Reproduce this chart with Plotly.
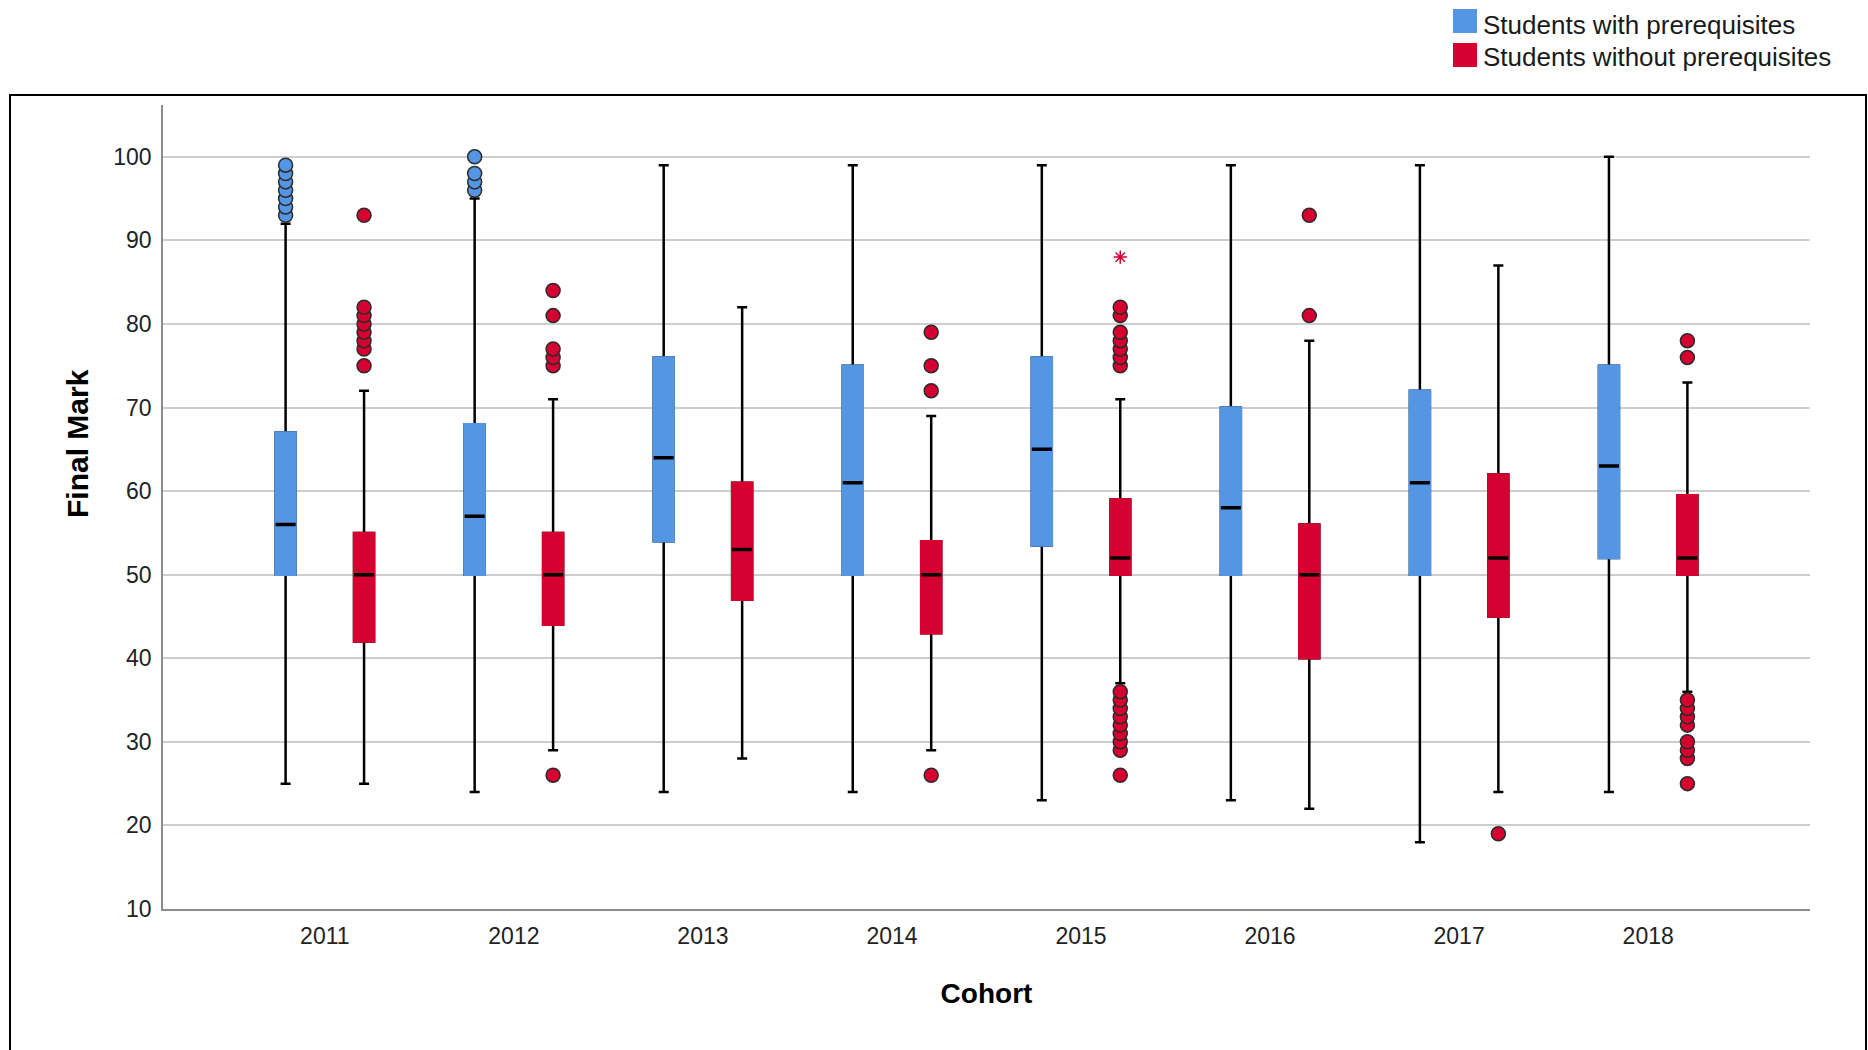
import plotly.graph_objects as go

# ---- data: final marks by cohort -------------------------------------------
cohorts = ["2011", "2012", "2013", "2014", "2015", "2016", "2017", "2018"]

# Students with prerequisites
with_low = [25, 24, 24, 24, 23, 23, 18, 24]
with_q1 = [50, 50, 54, 50, 53.5, 50, 50, 52]
with_median = [56, 57, 64, 61, 65, 58, 61, 63]
with_q3 = [67, 68, 76, 75, 76, 70, 72, 75]
with_high = [92, 95, 99, 99, 99, 99, 99, 100]
with_outliers = {
    "2011": [93, 94, 95, 96, 97, 98, 99],
    "2012": [96, 97, 98, 100],
}
with_extremes = {}

# Students without prerequisites
without_low = [25, 29, 28, 29, 37, 22, 24, 36]
without_q1 = [42, 44, 47, 43, 50, 40, 45, 50]
without_median = [50, 50, 53, 50, 52, 50, 52, 52]
without_q3 = [55, 55, 61, 54, 59, 56, 62, 59.5]
without_high = [72, 71, 82, 69, 71, 78, 87, 73]
without_outliers = {
    "2011": [75, 77, 78, 79, 80, 81, 82, 93],
    "2012": [26, 75, 76, 77, 81, 84],
    "2014": [26, 72, 75, 79],
    "2015": [26, 29, 30, 31, 32, 33, 34, 35, 36, 75, 76, 77, 78, 79, 81, 82],
    "2016": [81, 93],
    "2017": [19],
    "2018": [25, 28, 29, 30, 32, 33, 34, 35, 76, 78],
}
without_extremes = {"2015": [88]}

series_names = ["Students with prerequisites", "Students without prerequisites"]
series_colors = ["#5596E4", "#D5002F"]

y_ticks = [10, 20, 30, 40, 50, 60, 70, 80, 90, 100]

FONT = "Liberation Sans, Arial, sans-serif"
CLEAR = "rgba(0,0,0,0)"


def flatten(points):
    xs, ys = [], []
    for cohort, vals in points.items():
        for v in vals:
            xs.append(cohort)
            ys.append(v)
    return xs, ys


def add_series(fig, group, color, low, q1, med, q3, high, outliers, extremes):
    common = dict(x=cohorts, offsetgroup=group, showlegend=False,
                  boxpoints=False, hoverinfo="skip")
    # whiskers with caps (black)
    fig.add_trace(go.Box(q1=q1, median=med, q3=q3, lowerfence=low,
                         upperfence=high, fillcolor=CLEAR, whiskerwidth=0.5,
                         line=dict(color="black", width=2.5), **common))
    # coloured interquartile box without an outline
    fig.add_trace(go.Box(q1=q1, median=q1, q3=q3, lowerfence=q1,
                         upperfence=q3, fillcolor=color, whiskerwidth=0,
                         line=dict(color=color, width=2.5), **common))
    # median bar
    fig.add_trace(go.Box(q1=med, median=med, q3=med, lowerfence=med,
                         upperfence=med, fillcolor=CLEAR, whiskerwidth=0,
                         line=dict(color="black", width=3.5), **common))
    # outliers (circles)
    xs, ys = flatten(outliers)
    if xs:
        fig.add_trace(go.Box(x=xs, y=ys, offsetgroup=group, showlegend=False,
                             boxpoints="all", jitter=0, pointpos=0,
                             fillcolor=CLEAR, line=dict(color=CLEAR, width=0),
                             marker=dict(symbol="circle", size=14, color=color,
                                         line=dict(color="#2b2b2b", width=1.5)),
                             hoverinfo="y"))
    # extreme values (asterisks)
    xs, ys = flatten(extremes)
    if xs:
        fig.add_trace(go.Box(x=xs, y=ys, offsetgroup=group, showlegend=False,
                             boxpoints="all", jitter=0, pointpos=0,
                             fillcolor=CLEAR, line=dict(color=CLEAR, width=0),
                             marker=dict(symbol="asterisk-open", size=11,
                                         color=color,
                                         line=dict(color=color, width=1.5)),
                             hoverinfo="y"))


fig = go.Figure()
add_series(fig, "with", series_colors[0], with_low, with_q1, with_median,
           with_q3, with_high, with_outliers, with_extremes)
add_series(fig, "without", series_colors[1], without_low, without_q1,
           without_median, without_q3, without_high, without_outliers,
           without_extremes)

# plot area in pixels
W, H = 1868, 1050
L, R, T, B = 163, 58, 105, 141
PW, PH = W - L - R, H - T - B


def px_x(px):
    return (px - L) / PW


def px_y(py):
    return (H - B - py) / PH


shapes = [
    # outer chart frame
    dict(type="rect", xref="paper", yref="paper",
         x0=px_x(10), x1=px_x(1866), y0=px_y(1070), y1=px_y(95),
         line=dict(color="black", width=2), fillcolor=CLEAR, layer="below"),
]
annotations = [
    # y-axis title
    dict(xref="paper", yref="paper", x=px_x(77), y=px_y(444),
         xanchor="center", yanchor="middle", textangle=-90, showarrow=False,
         text="<b>Final Mark</b>",
         font=dict(family=FONT, size=30, color="black")),
]

# legend: coloured squares with labels, top right
legend_rows = [(9, 25), (43, 57)]
for (top, mid), name, color in zip(legend_rows, series_names, series_colors):
    shapes.append(dict(type="rect", xref="paper", yref="paper",
                       x0=px_x(1453), x1=px_x(1477),
                       y0=px_y(top + 24), y1=px_y(top),
                       line=dict(width=0), fillcolor=color))
    annotations.append(dict(xref="paper", yref="paper", x=px_x(1481),
                            y=px_y(mid), xanchor="left", yanchor="middle",
                            showarrow=False, text=name,
                            font=dict(family=FONT, size=26, color="#1a1a1a")))

fig.update_layout(
    width=W, height=H,
    margin=dict(l=L, r=R, t=T, b=B, autoexpand=False),
    paper_bgcolor="white", plot_bgcolor="white",
    boxmode="group", boxgap=0.17, boxgroupgap=0.745,
    showlegend=False,
    font=dict(family=FONT, size=22, color="#222222"),
    shapes=shapes, annotations=annotations,
)

fig.update_xaxes(
    type="category", categoryorder="array", categoryarray=cohorts,
    range=[-0.856, 7.856],
    showline=True, linecolor="#8c8c8c", linewidth=1.5,
    showgrid=False, zeroline=False, ticks="",
    tickfont=dict(family=FONT, size=23, color="#222222"),
    ticklabelstandoff=6,
    title=dict(text="<b>Cohort</b>", standoff=35,
               font=dict(family=FONT, size=28, color="black")),
)

fig.update_yaxes(
    range=[10, 106.2], tickvals=y_ticks,
    showline=True, linecolor="#8c8c8c", linewidth=1.5,
    showgrid=True, gridcolor="#cdcdcd", gridwidth=1.5,
    zeroline=False, ticks="",
    tickfont=dict(family=FONT, size=23, color="#222222"),
    ticklabelstandoff=5,
)

fig.write_html("out.html")
